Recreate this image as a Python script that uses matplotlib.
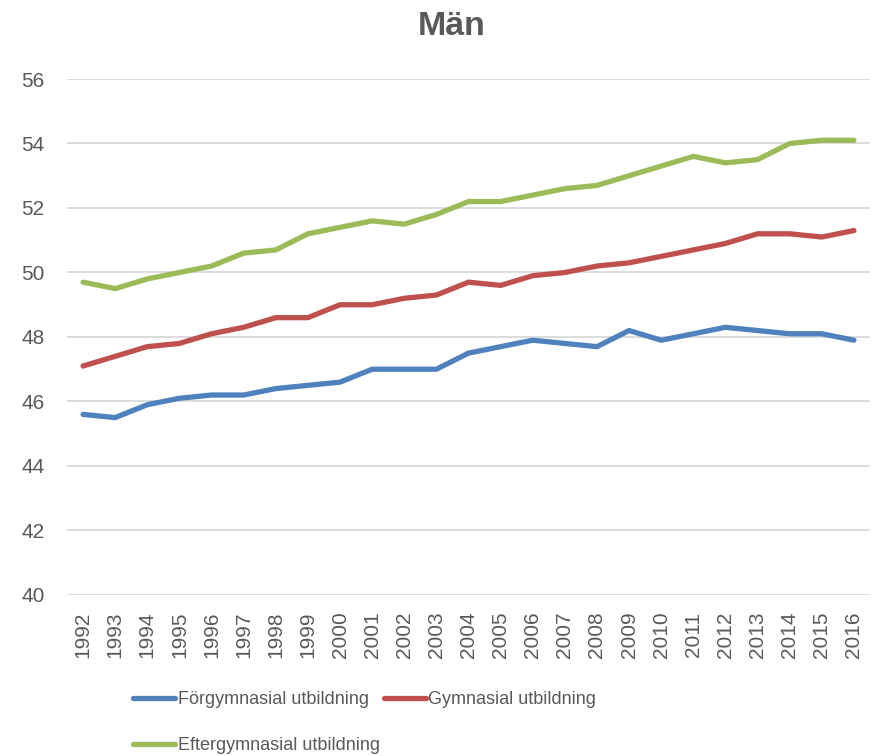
import numpy as np
import matplotlib
matplotlib.use("Agg")
import matplotlib.pyplot as plt

years = [str(y) for y in range(1992, 2017)]

forgymnasial = [45.6, 45.5, 45.9, 46.1, 46.2, 46.2, 46.4, 46.5, 46.6, 47.0, 47.0, 47.0, 47.5,
                47.7, 47.9, 47.8, 47.7, 48.2, 47.9, 48.1, 48.3, 48.2, 48.1, 48.1, 47.9]
gymnasial = [47.1, 47.4, 47.7, 47.8, 48.1, 48.3, 48.6, 48.6, 49.0, 49.0, 49.2, 49.3, 49.7,
             49.6, 49.9, 50.0, 50.2, 50.3, 50.5, 50.7, 50.9, 51.2, 51.2, 51.1, 51.3]
eftergymnasial = [49.7, 49.5, 49.8, 50.0, 50.2, 50.6, 50.7, 51.2, 51.4, 51.6, 51.5, 51.8, 52.2,
                  52.2, 52.4, 52.6, 52.7, 53.0, 53.3, 53.6, 53.4, 53.5, 54.0, 54.1, 54.1]

labels = ["Förgymnasial utbildning", "Gymnasial utbildning", "Eftergymnasial utbildning"]
colors = ["#4F81BD", "#C0504D", "#9BBB59"]
yticks = [40, 42, 44, 46, 48, 50, 52, 54, 56]

txt = "#595959"
plt.rcParams['font.family'] = ['Liberation Sans', 'DejaVu Sans']

fig = plt.figure(figsize=(8.77, 7.56), dpi=100)
ax = fig.add_axes([0.0764, 0.213, 0.9156, 0.6825])

x = np.arange(len(years))
lines = []
for data, lab, c in zip([forgymnasial, gymnasial, eftergymnasial], labels, colors):
    ln, = ax.plot(x, data, color=c, lw=3.8, label=lab,
                  solid_joinstyle='round', solid_capstyle='round')
    lines.append(ln)

ax.set_xlim(-0.5, len(years) - 0.5)
ax.set_ylim(40, 56)
ax.set_yticks(yticks)
ax.set_xticks(x)
ax.set_xticklabels(years, rotation=90)
ax.grid(axis='y', color='#D9D9D9', lw=1.3)
ax.set_axisbelow(True)
for s in ax.spines.values():
    s.set_visible(False)
ax.tick_params(axis='both', length=0, labelsize=15, colors=txt)
ax.tick_params(axis='y', pad=16)
ax.tick_params(axis='x', pad=12)

fig.text(0.515, 0.965, "Män", ha='center', va='center', fontsize=24.5,
         fontweight='bold', color=txt)

leg = fig.legend([lines[0], lines[2], lines[1]], [labels[0], labels[2], labels[1]],
                 ncol=2, loc='upper left', bbox_to_anchor=(0.152, 0.086),
                 frameon=False, fontsize=13, handlelength=2.3, handletextpad=0.15,
                 columnspacing=0.25, labelspacing=1.6, borderpad=0, borderaxespad=0)
for t in leg.get_texts():
    t.set_color(txt)

fig.savefig("out.png", dpi=100)
